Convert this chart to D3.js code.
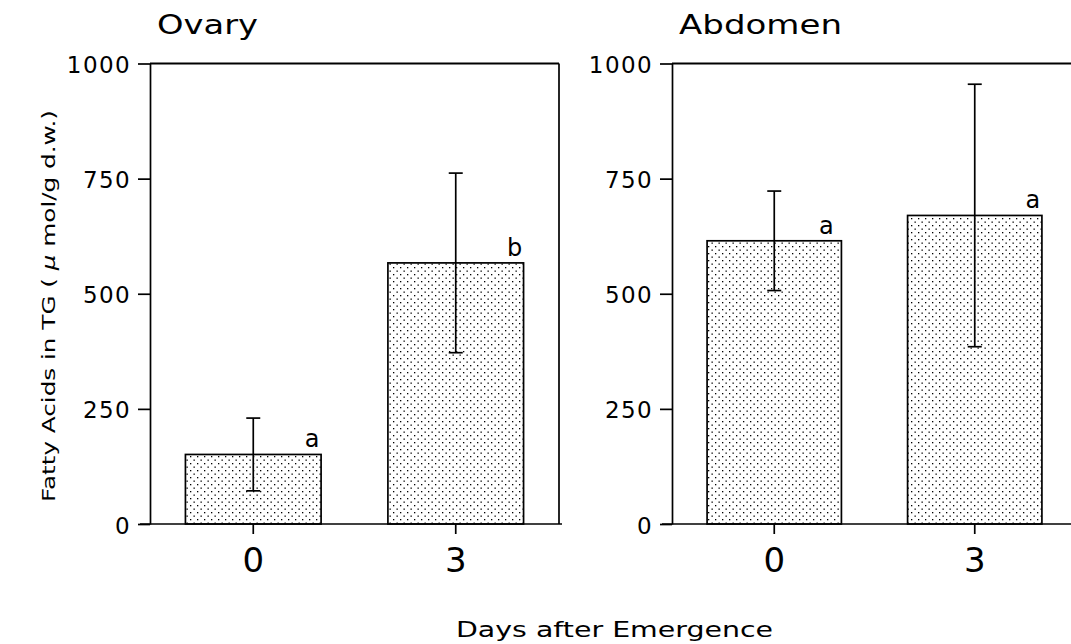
<!DOCTYPE html>
<html>
<head>
<meta charset="utf-8">
<script src="https://cdn.jsdelivr.net/npm/d3@7"></script>
<style>
  html, body { margin: 0; padding: 0; background: #fff; }
  svg { display: block; }
  text { font-family: "DejaVu Sans", sans-serif; fill: #000; }
</style>
</head>
<body>
<svg id="chart" width="1071" height="644"></svg>
<script>
// ---- data ----
const categories = ["0", "3"];
const panelTitles = ["Ovary", "Abdomen"];
const ovaryMeans = [151, 567];
const ovaryErrors = [79, 195];
const ovaryLetters = ["a", "b"];
const abdomenMeans = [615, 670];
const abdomenErrors = [108, 285];
const abdomenLetters = ["a", "a"];
const yTickValues = [0, 250, 500, 750, 1000];
const xAxisTitle = "Days after Emergence";

// ---- layout ----
const svg = d3.select("#chart");
const yTop = 63.5, yBottom = 524;
const panels = [
  { title: panelTitles[0], means: ovaryMeans, errors: ovaryErrors, letters: ovaryLetters, x0: 150, x1: 559, titleLen: 101, letterDx: [0, 0] },
  { title: panelTitles[1], means: abdomenMeans, errors: abdomenErrors, letters: abdomenLetters, x0: 672, x1: 1077, titleLen: 163, letterDx: [-6, 0] }
];

const defs = svg.append("defs");
const pat = defs.append("pattern")
  .attr("id", "dots").attr("patternUnits", "userSpaceOnUse")
  .attr("width", 7).attr("height", 7);
pat.append("rect").attr("width", 7).attr("height", 7).attr("fill", "#fff");
pat.append("rect").attr("x", 1).attr("y", 1).attr("width", 1.3).attr("height", 1.3).attr("fill", "#000");
pat.append("rect").attr("x", 4.5).attr("y", 4.5).attr("width", 1.3).attr("height", 1.3).attr("fill", "#000");

const y = d3.scaleLinear().domain([0, 1000]).range([yBottom, yTop]);
const SW = 1.7;

panels.forEach(p => {
  const x = d3.scaleBand().domain(categories).range([p.x0, p.x1])
    .paddingInner(0.33).paddingOuter(0.175);
  const g = svg.append("g");

  // bars
  g.selectAll("rect.bar").data(categories).join("rect")
    .attr("class", "bar")
    .attr("x", d => x(d))
    .attr("width", x.bandwidth())
    .attr("y", (d, i) => y(p.means[i]))
    .attr("height", (d, i) => y(0) - y(p.means[i]))
    .attr("fill", "url(#dots)")
    .attr("stroke", "#000").attr("stroke-width", SW);

  // error bars
  const cx = d => x(d) + x.bandwidth() / 2;
  const eb = g.selectAll("g.err").data(categories).join("g").attr("class", "err");
  eb.append("line")
    .attr("x1", cx).attr("x2", cx)
    .attr("y1", (d, i) => y(p.means[i] + p.errors[i]))
    .attr("y2", (d, i) => y(p.means[i] - p.errors[i]))
    .attr("stroke", "#000").attr("stroke-width", SW);
  [1, -1].forEach(s => {
    eb.append("line")
      .attr("x1", d => cx(d) - 7).attr("x2", d => cx(d) + 7)
      .attr("y1", (d, i) => y(p.means[i] + s * p.errors[i]))
      .attr("y2", (d, i) => y(p.means[i] + s * p.errors[i]))
      .attr("stroke", "#000").attr("stroke-width", SW);
  });

  // significance letters
  g.selectAll("text.sig").data(categories).join("text")
    .attr("class", "sig")
    .attr("x", (d, i) => x(d) + x.bandwidth() - 9 + p.letterDx[i])
    .attr("y", (d, i) => y(p.means[i]) - 7)
    .attr("text-anchor", "middle")
    .attr("font-size", 24)
    .text((d, i) => p.letters[i]);

  // y axis
  const yAxis = d3.axisLeft(y).tickValues(yTickValues).tickFormat(d3.format("d"))
    .tickSize(12).tickSizeOuter(0).tickPadding(7);
  const ya = g.append("g").attr("transform", `translate(${p.x0},0)`).call(yAxis);
  ya.selectAll("path, line").attr("stroke", "#000").attr("stroke-width", SW);
  ya.selectAll("text").attr("font-size", 23).attr("letter-spacing", "1.4px")
    .attr("font-family", "DejaVu Sans, sans-serif").attr("fill", "#000")
    .attr("dy", null).attr("y", 9);

  // x axis
  const xAxis = d3.axisBottom(x).tickSize(10).tickSizeOuter(0).tickPadding(14);
  const xa = g.append("g").attr("transform", `translate(0,${yBottom})`).call(xAxis);
  xa.select("path.domain").attr("d", `M${p.x0 - 10},0H${p.x1 + 3}`);
  xa.selectAll("path, line").attr("stroke", "#000").attr("stroke-width", SW);
  xa.selectAll("text").attr("font-size", 34).attr("font-family", "DejaVu Sans, sans-serif")
    .attr("fill", "#000").attr("dy", null).attr("y", 48);

  // top and right frame
  g.append("line").attr("x1", p.x0).attr("x2", p.x1).attr("y1", yTop).attr("y2", yTop)
    .attr("stroke", "#000").attr("stroke-width", SW + 0.4);
  g.append("line").attr("x1", p.x1).attr("x2", p.x1).attr("y1", yTop).attr("y2", yBottom)
    .attr("stroke", "#000").attr("stroke-width", SW);

  // title
  g.append("text").attr("x", p.x0 + 7).attr("y", 34)
    .attr("font-size", 26)
    .attr("textLength", p.titleLen).attr("lengthAdjust", "spacingAndGlyphs")
    .text(p.title);
});

// x axis title
svg.append("text").attr("x", 456).attr("y", 637)
  .attr("font-size", 22)
  .attr("textLength", 317).attr("lengthAdjust", "spacingAndGlyphs")
  .text(xAxisTitle);

// y axis title
const yl = svg.append("text")
  .attr("transform", "translate(55,306) rotate(-90)")
  .attr("text-anchor", "middle")
  .attr("font-size", 18)
  .attr("textLength", 392).attr("lengthAdjust", "spacingAndGlyphs");
yl.append("tspan").text("Fatty Acids in TG ( ");
yl.append("tspan").attr("font-style", "italic").text("μ");
yl.append("tspan").text(" mol/g d.w.)");
</script>
</body>
</html>
